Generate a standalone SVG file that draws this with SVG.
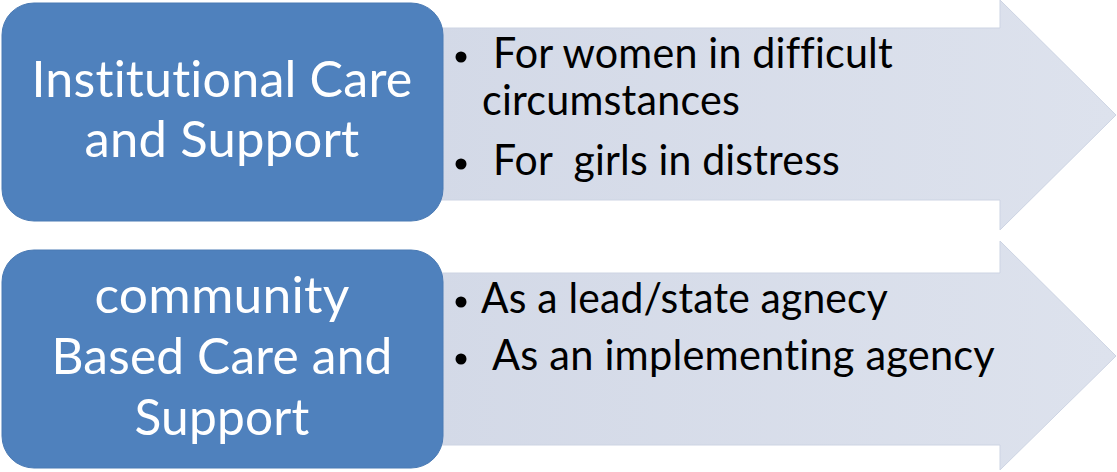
<svg xmlns="http://www.w3.org/2000/svg" width="1117" height="472" viewBox="0 0 1117 472">
<defs>
<linearGradient id="ag" x1="0" y1="0" x2="1" y2="0">
<stop offset="0" stop-color="#d3d9e7"/>
<stop offset="1" stop-color="#dde2ed"/>
</linearGradient>
<style>
.box{fill:#4f81bd;stroke:#4a7ab4;stroke-width:1}
.arrow{fill:url(#ag);stroke:#cdd4e3;stroke-width:1}
.bt{font-family:Lato,"Open Sans",sans-serif;font-size:50px;fill:#ffffff;text-anchor:middle;font-variant-ligatures:none;font-feature-settings:"liga" 0,"clig" 0,"dlig" 0,"calt" 0;letter-spacing:0.2px}
.it{font-family:Lato,"Open Sans",sans-serif;font-size:42px;fill:#000000;font-variant-ligatures:none;font-feature-settings:"liga" 0,"clig" 0,"dlig" 0,"calt" 0;letter-spacing:0.2px}
.dot{fill:#000000}
</style>
</defs>
<g id="arrow1">
<polygon class="arrow" points="430,28 1000,28 1000,0 1116,115 1000,230 1000,200 430,200"/>
<circle class="dot" cx="461" cy="57" r="5.5"/>
<text class="it" x="493" y="68" textLength="400" lengthAdjust="spacingAndGlyphs">For women in difficult</text>
<text class="it" x="482" y="115" textLength="258" lengthAdjust="spacingAndGlyphs">circumstances</text>
<circle class="dot" cx="461" cy="164" r="5.5"/>
<text class="it" x="493" y="175" textLength="347" lengthAdjust="spacingAndGlyphs" xml:space="preserve">For  girls in distress</text>
</g>
<g id="box1">
<rect class="box" x="2" y="3" width="441" height="218" rx="32"/>
<text class="bt" x="222" y="97" textLength="381" lengthAdjust="spacingAndGlyphs">Institutional Care</text>
<text class="bt" x="222" y="157" textLength="275" lengthAdjust="spacingAndGlyphs">and Support</text>
</g>
<g id="arrow2">
<polygon class="arrow" points="430,273 1000,273 1000,241 1116,356 1000,470 1000,445 430,445"/>
<circle class="dot" cx="461" cy="302" r="5.5"/>
<text class="it" x="481" y="313" textLength="407" lengthAdjust="spacingAndGlyphs">As a lead/state agnecy</text>
<circle class="dot" cx="461" cy="359" r="5.5"/>
<text class="it" x="492" y="370" textLength="503" lengthAdjust="spacingAndGlyphs">As an implementing agency</text>
</g>
<g id="box2">
<rect class="box" x="2" y="250" width="441" height="218" rx="32"/>
<text class="bt" x="222" y="313" textLength="255" lengthAdjust="spacingAndGlyphs">community</text>
<text class="bt" x="222" y="374" textLength="341" lengthAdjust="spacingAndGlyphs">Based Care and</text>
<text class="bt" x="222" y="435" textLength="175" lengthAdjust="spacingAndGlyphs">Support</text>
</g>
<g id="connectors"></g>
</svg>
